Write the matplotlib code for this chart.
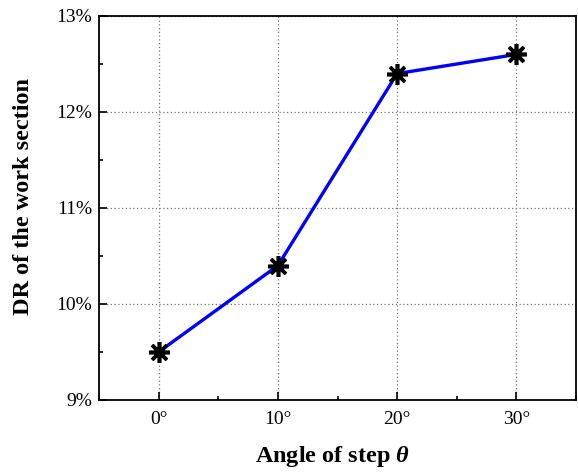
import matplotlib
matplotlib.use("Agg")
import matplotlib.pyplot as plt
from matplotlib.ticker import FuncFormatter, MultipleLocator

angles = [0, 10, 20, 30]
dr = [9.5, 10.4, 12.4, 12.6]
xtick_labels = ["0°", "10°", "20°", "30°"]
yticks = [9, 10, 11, 12, 13]

plt.rcParams['font.family'] = ['Liberation Serif', 'DejaVu Serif']
plt.rcParams['mathtext.fontset'] = 'custom'
plt.rcParams['mathtext.bfit'] = 'Liberation Serif:bold:italic'
plt.rcParams['mathtext.it'] = 'Liberation Serif:italic'
plt.rcParams['mathtext.bf'] = 'Liberation Serif:bold'
plt.rcParams['mathtext.rm'] = 'Liberation Serif'

fig = plt.figure(figsize=(5.78, 4.72), dpi=100)
ax = fig.add_axes([99/578, 72/472, 477/578, 384/472])

ax.plot(angles, dr, color='#0000ff', lw=2.4, zorder=3)
ax.plot(angles, dr, ls='none', marker=(8, 2, 0), ms=15, mew=2.6, color='black', zorder=4)

ax.set_xlim(-5, 35)
ax.set_ylim(9, 13)
ax.set_xticks(angles)
ax.set_xticklabels(xtick_labels)
ax.set_yticks(yticks)
ax.yaxis.set_major_formatter(FuncFormatter(lambda v, p: f"{v:.0f}%"))
ax.xaxis.set_minor_locator(MultipleLocator(5))
ax.yaxis.set_minor_locator(MultipleLocator(0.5))
ax.tick_params(which='both', direction='in', labelsize=14, width=1.2)
ax.tick_params(axis='x', which='major', length=6, pad=8)
ax.tick_params(axis='y', which='major', length=6, pad=5)
ax.tick_params(which='minor', length=3)
ax.tick_params(top=False, right=False, which='both')
ax.grid(True, which='major', ls=(0, (1, 2)), color='#777777', lw=0.9)
for s in ax.spines.values():
    s.set_linewidth(1.3)

ax.set_xlabel(r"Angle of step $\mathbfit{\theta}$", fontsize=17.5, fontweight='bold', labelpad=10)
ax.xaxis.set_label_coords(0.49, -0.115)
ax.set_ylabel("DR of the work section", fontsize=17.5, fontweight='bold')
ax.yaxis.set_label_coords(-0.136, 0.53)

fig.savefig("out.png", dpi=100)
